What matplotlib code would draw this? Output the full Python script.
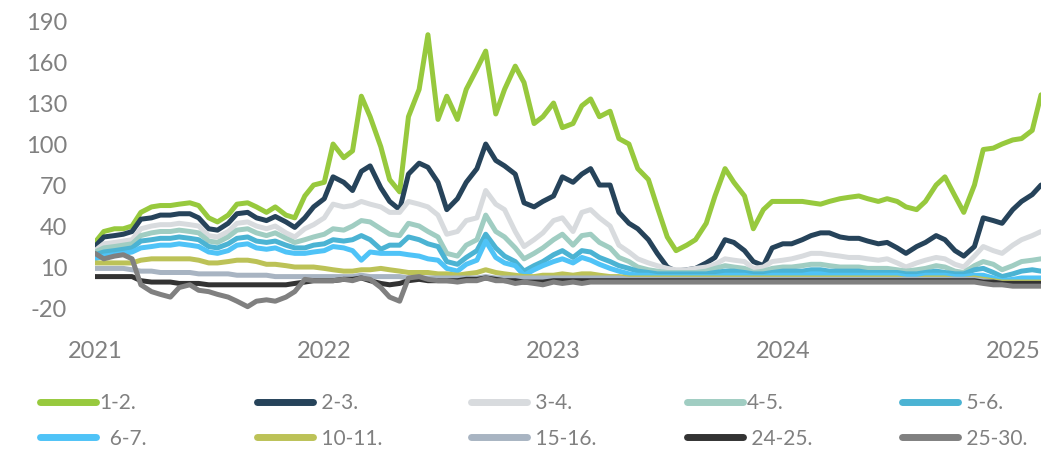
import pandas as pd
import matplotlib
matplotlib.use("Agg")
import matplotlib.pyplot as plt
import matplotlib.dates as mdates
from matplotlib.lines import Line2D

# semi-monthly observation dates
dates = pd.date_range("2021-01-01", periods=100, freq="SMS")

s_1_2 = [28, 36, 38, 38, 40, 50, 54, 55, 55, 56,
         57, 55, 46, 43, 48, 56, 57, 54, 50, 54,
         48, 46, 62, 70, 72, 100, 90, 95, 135, 120,
         98, 74, 65, 120, 140, 180, 118, 135, 118, 140,
         155, 168, 122, 140, 157, 145, 115, 120, 130, 112,
         115, 128, 133, 120, 124, 104, 100, 82, 74, 54,
         32, 22, 26, 30, 42, 62, 82, 72, 62, 38,
         52, 58, 58, 58, 58, 57, 56, 58, 60, 61,
         62, 60, 58, 60, 58, 54, 52, 58, 70, 76,
         62, 50, 70, 96, 97, 100, 103, 104, 110, 136]

s_2_3 = [25, 32, 33, 34, 36, 45, 46, 48, 48, 49,
         49, 46, 38, 37, 42, 49, 50, 46, 44, 47,
         43, 39, 46, 54, 60, 76, 72, 66, 80, 84,
         68, 58, 52, 78, 86, 83, 72, 52, 60, 72,
         82, 100, 88, 84, 78, 57, 54, 58, 62, 76,
         72, 78, 82, 70, 70, 50, 42, 38, 30, 20,
         10, 7, 8, 9, 13, 17, 30, 28, 22, 14,
         11, 24, 27, 27, 30, 33, 35, 35, 32, 31,
         31, 29, 27, 28, 24, 20, 25, 28, 33, 30,
         22, 18, 25, 46, 44, 42, 52, 58, 63, 70]

s_3_4 = [22, 27, 28, 29, 30, 38, 40, 41, 41, 42,
         41, 40, 33, 32, 36, 42, 43, 40, 38, 40,
         35, 32, 38, 41, 46, 56, 54, 55, 58, 56,
         54, 50, 50, 58, 56, 54, 48, 34, 36, 44,
         46, 66, 56, 52, 36, 25, 30, 35, 44, 46,
         36, 50, 52, 46, 40, 26, 21, 16, 13, 11,
         9, 8, 8, 9, 10, 12, 16, 15, 14, 9,
         10, 14, 15, 16, 18, 20, 20, 19, 18, 17,
         17, 16, 15, 16, 13, 10, 13, 15, 17, 16,
         12, 10, 18, 25, 22, 20, 26, 30, 33, 36]

s_4_5 = [21, 24, 25, 26, 27, 33, 35, 36, 36, 37,
         36, 35, 29, 28, 32, 37, 38, 35, 33, 35,
         31, 28, 30, 32, 34, 38, 37, 40, 44, 43,
         38, 34, 33, 42, 40, 36, 32, 20, 18, 26,
         30, 48, 36, 32, 24, 16, 20, 24, 30, 34,
         26, 33, 34, 28, 24, 17, 14, 10, 8, 7,
         6, 6, 6, 6, 7, 9, 11, 10, 9, 6,
         7, 9, 10, 10, 11, 12, 12, 11, 10, 10,
         10, 9, 9, 9, 8, 7, 8, 9, 11, 10,
         7, 6, 11, 14, 12, 8, 11, 14, 15, 16]

s_5_6 = [19, 21, 22, 23, 24, 29, 30, 31, 31, 32,
         31, 30, 25, 24, 27, 31, 32, 29, 28, 29,
         26, 24, 24, 26, 27, 30, 29, 30, 33, 30,
         23, 26, 26, 32, 30, 27, 25, 14, 12, 17,
         22, 34, 24, 18, 14, 7, 11, 14, 19, 22,
         17, 22, 21, 17, 14, 11, 9, 7, 6, 5,
         5, 5, 5, 5, 5, 6, 7, 7, 6, 5,
         5, 6, 7, 7, 7, 8, 8, 7, 7, 7,
         7, 6, 6, 6, 6, 5, 5, 6, 7, 6,
         5, 5, 8, 9, 6, 3, 5, 7, 8, 7]

s_6_7 = [16, 18, 19, 20, 21, 24, 25, 26, 26, 27,
         26, 25, 21, 20, 22, 26, 27, 24, 23, 24,
         21, 20, 20, 21, 22, 25, 24, 22, 15, 21,
         20, 20, 20, 19, 18, 16, 15, 9, 7, 12,
         15, 29, 17, 13, 11, 4, 8, 11, 14, 16,
         13, 17, 15, 12, 9, 7, 5, 4, 4, 3,
         3, 3, 3, 3, 3, 3, 4, 4, 4, 3,
         3, 4, 4, 4, 4, 5, 5, 4, 4, 4,
         4, 4, 4, 4, 4, 3, 3, 4, 4, 4,
         3, 3, 4, 4, 2, 0, 1, 2, 2, 2]

s_10_11 = [13, 13, 13, 13, 13, 15, 16, 16, 16, 16,
           16, 15, 13, 13, 14, 15, 15, 14, 12, 12,
           11, 10, 10, 10, 9, 8, 7, 7, 8, 8,
           9, 8, 7, 6, 6, 6, 5, 5, 4, 5,
           6, 8, 6, 5, 4, 3, 3, 4, 4, 5,
           4, 5, 5, 4, 3, 3, 2, 2, 2, 2,
           2, 2, 2, 2, 2, 2, 2, 2, 2, 2,
           2, 2, 2, 2, 2, 2, 2, 2, 2, 2,
           2, 2, 2, 2, 2, 1, 1, 2, 2, 2,
           1, 1, 2, 1, 0, -1, -1, -1, -1, -1]

s_15_16 = [9, 9, 9, 9, 8, 7, 7, 6, 6, 6,
           6, 5, 5, 5, 5, 4, 4, 4, 4, 3,
           3, 3, 3, 3, 3, 3, 3, 3, 4, 3,
           3, 3, 3, 2, 2, 2, 2, 2, 2, 2,
           2, 3, 2, 2, 2, 2, 2, 2, 2, 2,
           2, 2, 2, 2, 2, 2, 1, 1, 1, 1,
           1, 1, 1, 1, 1, 1, 1, 1, 1, 1,
           1, 1, 1, 1, 1, 1, 1, 1, 1, 1,
           1, 1, 1, 1, 1, 1, 1, 1, 1, 1,
           1, 1, 1, 0, -1, -2, -2, -2, -2, -2]

s_24_25 = [3, 3, 3, 3, 3, 0, -1, -1, -1, -2,
           -2, -2, -3, -3, -3, -3, -3, -3, -3, -3,
           -3, -2, -1, 0, 0, 0, 1, 1, 2, 0,
           -2, -3, -2, 0, 1, 0, 0, 0, 0, 1,
           1, 2, 1, 0, 0, -1, -1, -1, 0, 0,
           0, 0, 0, 0, 0, 0, 0, 0, 0, 0,
           0, 0, 0, 0, 0, 0, 0, 0, 0, 0,
           0, 0, 0, 0, 0, 0, 0, 0, 0, 0,
           0, 0, 0, 0, 0, 0, 0, 0, 0, 0,
           0, 0, 0, -1, -1, -2, -2, -2, -2, -2]

s_25_30 = [20, 16, 18, 19, 16, -3, -8, -10, -12, -5,
           -3, -7, -8, -10, -12, -15, -19, -15, -14, -15,
           -12, -8, 1, 0, 0, 0, 1, 0, 2, 1,
           -5, -12, -15, 2, 3, 1, 0, 0, -1, 0,
           0, 2, 0, 0, -2, -1, -2, -3, -1, -2,
           -1, -2, -1, -1, -1, -1, -1, -1, -1, -1,
           -1, -1, -1, -1, -1, -1, -1, -1, -1, -1,
           -1, -1, -1, -1, -1, -1, -1, -1, -1, -1,
           -1, -1, -1, -1, -1, -1, -1, -1, -1, -1,
           -1, -1, -1, -2, -3, -3, -4, -4, -4, -4]

labels = ["1-2.", " 2-3.", " 3-4.", "4-5.", " 5-6.",
          "  6-7.", " 10-11.", " 15-16.", " 24-25.", " 25-30."]
colors = ["#97c93d", "#26435a", "#d8dbde", "#a0cdc2", "#4bb3d3",
          "#4fc3f7", "#bcc257", "#a8b4c2", "#333333", "#808080"]
series = [s_1_2, s_2_3, s_3_4, s_4_5, s_5_6,
          s_6_7, s_10_11, s_15_16, s_24_25, s_25_30]

plt.rcParams["font.family"] = ["Lato", "DejaVu Sans"]
plt.rcParams["axes.unicode_minus"] = False
grey_txt = "#808080"

fig = plt.figure(figsize=(10.45, 4.51), dpi=100)
ax = fig.add_axes([0.0909, 0.2867, 0.9053, 0.6818])

for vals, col in zip(series, colors):
    ax.plot(dates, vals, color=col, lw=3.6, solid_joinstyle="round",
            solid_capstyle="round")

ax.set_xlim(dates[0], dates[-1])
ax.set_ylim(-30, 195)
ax.set_yticks([-20, 10, 40, 70, 100, 130, 160, 190])
ax.xaxis.set_major_locator(mdates.YearLocator())
ax.xaxis.set_major_formatter(mdates.DateFormatter("%Y"))
ax.tick_params(axis="both", length=0, labelsize=17, colors=grey_txt)
ax.tick_params(axis="y", pad=20)
ax.tick_params(axis="x", pad=14)
for sp in ax.spines.values():
    sp.set_visible(False)

# legend, two rows of five
handles = [Line2D([], [], color=c, lw=5, solid_capstyle="round") for c in colors]
col_x = [40, 257, 471, 687, 902]
for j, x in enumerate(col_x):
    fig.legend(handles=[handles[j], handles[j + 5]],
               labels=[labels[j], labels[j + 5]],
               loc="upper left", bbox_to_anchor=(x / 1045, 1 - 393 / 451),
               frameon=False, fontsize=15, labelcolor=grey_txt,
               handlelength=2.7, handletextpad=0.15, labelspacing=0.75,
               borderpad=0, borderaxespad=0)

fig.savefig("out.png", dpi=100)
